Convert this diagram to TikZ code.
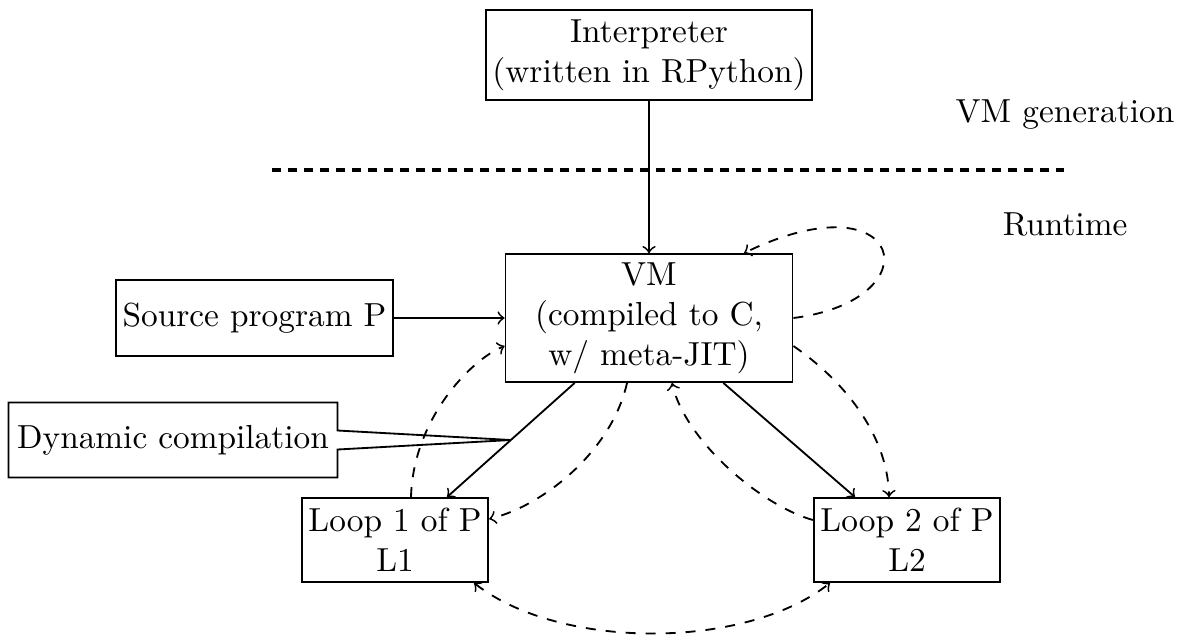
\documentclass[tikz,border=0pt]{standalone}
\usetikzlibrary{shapes.callouts,calc}
\begin{document}
\begin{tikzpicture}[x=0.3pt,y=-0.3pt,
  box/.style={draw, line width=0.55pt, align=center, inner xsep=2pt, inner ysep=1pt},
  dline/.style={dashed, line width=0.55pt},
  sline/.style={line width=0.55pt},
  sepline/.style={line width=1pt, dash pattern=on 2.6pt off 2.2pt}]
\useasboundingbox (0,0) rectangle (1177,635);

\node[box, minimum width=91.5pt, minimum height=27pt] (interp) at (649,55) {Interpreter\\(written in RPython)};
\node[box, minimum width=86.1pt, minimum height=38.4pt] (vm) at (649,318) {VM\\(compiled to C,\\w/ meta-JIT)};
\node[box, minimum width=82.5pt, minimum height=23pt] (src) at (254.5,318) {Source program P};
\node[box, minimum width=55pt, minimum height=25.2pt] (l1) at (395,540) {Loop 1 of P\\L1};
\node[box, minimum width=55pt, minimum height=25.2pt] (l2) at (907,540) {Loop 2 of P\\L2};
\node (gen) at (1065,115) {VM generation};
\node (rt) at (1065,224) {Runtime};

\coordinate (sepL) at (272,170);
\coordinate (sepR) at (1064,170);
\draw[sepline] (sepL) -- (sepR);

\coordinate (a1) at ([xshift=-22.3pt]vm.south);
\coordinate (b1) at ([xshift=15.6pt]l1.north);
\coordinate (a2) at ([xshift=22.3pt]vm.south);
\coordinate (b2) at ([xshift=-15.6pt]l2.north);
\coordinate (m1) at ($(a1)!0.5!(b1)$);

\node[rectangle callout, draw, line width=0.55pt, inner sep=0pt,
  minimum width=98.7pt, minimum height=22.5pt,
  callout absolute pointer={(m1)}, callout pointer width=5.7pt] (dyn) at (173,440) {Dynamic compilation};

\draw[sline,->] (interp.south) -- (vm.north);
\draw[sline,->] (src.east) -- (vm.west);
\draw[sline,->] (a1) -- (b1);
\draw[sline,->] (a2) -- (b2);

\draw[dline,->] ([xshift=4.8pt]l1.north) .. controls (413,420) and (470,360) .. ([yshift=-8.4pt]vm.west);
\draw[dline,->] ([xshift=-6.6pt]vm.south) .. controls (612,450) and (545,505) .. ([yshift=6.3pt]l1.east);
\draw[dline,->] ([yshift=6pt]l2.west) .. controls (760,505) and (685,440) .. ([xshift=6.9pt]vm.south);
\draw[dline,->] ([yshift=-8.4pt]vm.east) .. controls (850,385) and (888,440) .. ([xshift=-5.4pt]l2.north);
\draw[dline,->] (vm.east) .. controls (935,300) and (905,175) .. ([xshift=28.5pt]vm.north);
\draw[dline,<->] ([xshift=23.7pt]l1.south) .. controls (560,650) and (745,650) .. ([xshift=-23.1pt]l2.south);
\end{tikzpicture}
\end{document}
